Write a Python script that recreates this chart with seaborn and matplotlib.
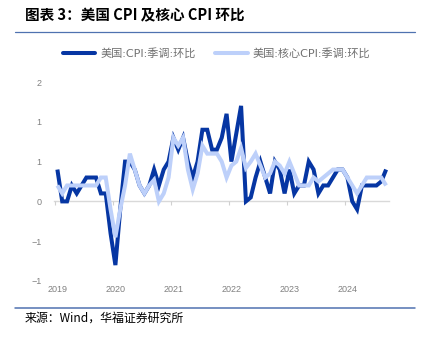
import numpy as np
import pandas as pd
import matplotlib
matplotlib.use("Agg")
import matplotlib.pyplot as plt
from matplotlib.lines import Line2D
import seaborn as sns

# ---- data ----
months = [str(p) for p in pd.period_range("2019-04", "2024-12", freq="M")]
cpi_mom = [0.4, 0.0, 0.0, 0.2, 0.1, 0.2, 0.3, 0.3, 0.3,
           0.1, 0.1, -0.4, -0.8, -0.1, 0.5, 0.5, 0.4, 0.2, 0.1, 0.2, 0.4,
           0.2, 0.4, 0.5, 0.8, 0.65, 0.8, 0.5, 0.3, 0.5, 0.9, 0.9, 0.65,
           0.65, 0.8, 1.1, 0.5, 0.85, 1.2, 0.0, 0.05, 0.3, 0.5, 0.3, 0.1,
           0.5, 0.4, 0.1, 0.4, 0.1, 0.2, 0.2, 0.5, 0.4, 0.1, 0.2, 0.2,
           0.3, 0.4, 0.4, 0.3, 0.0, -0.1, 0.2, 0.2, 0.2, 0.2, 0.25, 0.4]
core_mom = [0.2, 0.1, 0.2, 0.2, 0.2, 0.2, 0.2, 0.2, 0.2,
            0.3, 0.3, -0.1, -0.45, -0.1, 0.2, 0.6, 0.4, 0.2, 0.1, 0.2, 0.27,
            0.0, 0.1, 0.3, 0.8, 0.7, 0.8, 0.4, 0.15, 0.35, 0.7, 0.6, 0.6,
            0.6, 0.5, 0.3, 0.45, 0.5, 0.67, 0.42, 0.5, 0.6, 0.45, 0.3, 0.35,
            0.5, 0.45, 0.35, 0.5, 0.35, 0.2, 0.2, 0.2, 0.3, 0.25, 0.3, 0.35,
            0.4, 0.4, 0.4, 0.3, 0.2, 0.1, 0.2, 0.3, 0.3, 0.3, 0.3, 0.2]
series_names = ["美国:CPI:季调:环比", "美国:核心CPI:季调:环比"]
year_labels = ["2019", "2020", "2021", "2022", "2023", "2024"]
y_ticks = [-1.0, -0.5, 0.0, 0.5, 1.0, 1.5]
y_tick_labels = ["\u22121", "\u22121", "0", "1", "1", "2"]
title = "图表 3：美国 CPI 及核心 CPI 环比"
source = "来源：Wind，华福证券研究所"

dark = "#0636A3"
light = "#BDD0FA"

sns.set_theme(style="white")
plt.rcParams["font.family"] = ["Noto Sans CJK SC", "DejaVu Sans"]

df = pd.DataFrame({"idx": np.arange(len(months)), "month": months,
                   series_names[0]: cpi_mom, series_names[1]: core_mom})
long = df.melt(id_vars=["idx", "month"], var_name="series", value_name="value")

W, H = 423, 342
fig = plt.figure(figsize=(W / 100, H / 100), dpi=100)
ax = fig.add_axes([54 / W, (H - 281) / H, 335 / W, (281 - 82) / H])

sns.lineplot(data=long, x="idx", y="value", hue="series",
             palette=[dark, light], linewidth=2.9, ax=ax, legend=False,
             solid_capstyle="butt", solid_joinstyle="miter")

n = len(months)
ax.set_xlim(-0.7, n - 0.4)
ax.set_ylim(-1.0, 1.5)
for s in ["top", "right", "left"]:
    ax.spines[s].set_visible(False)
ax.spines["bottom"].set_position(("data", 0))
ax.spines["bottom"].set_color("#d9d9d9")
ax.spines["bottom"].set_linewidth(1.0)
ax.spines["bottom"].set_zorder(0)
label_pos = list(range(0, n, 12))
tick_pos = [p - 0.5 for p in label_pos]
ax.set_xticks(tick_pos)
ax.tick_params(axis="x", direction="out", length=3, width=0.8,
               color="#d0d0d0", labelbottom=False, bottom=True)
ax.set_yticks(y_ticks)
ax.set_yticklabels(y_tick_labels, family=["Liberation Sans", "DejaVu Sans"])
ax.tick_params(axis="y", length=0, pad=9, labelsize=6.5, labelcolor="#808080")
ax.set_xlabel("")
ax.set_ylabel("")
ax.grid(False)

sec = ax.secondary_xaxis(location=0.0)
sec.set_xticks(label_pos)
sec.set_xticklabels(year_labels, family=["Liberation Sans", "DejaVu Sans"])
sec.tick_params(length=0, pad=3, labelsize=6.5, labelcolor="#808080")
sec.spines["bottom"].set_visible(False)

# legend
handles = [Line2D([0], [0], color=dark, lw=2.9),
           Line2D([0], [0], color=light, lw=2.9)]
fig.legend(handles, series_names, loc="center", bbox_to_anchor=(0.512, 1 - 53 / H),
           ncol=2, frameon=False, handlelength=2.9, handletextpad=0.45,
           columnspacing=1.8, labelcolor="#707070",
           prop={"family": ["DejaVu Sans", "Noto Sans CJK SC"], "size": 8})

# title and rules
fig.text(25 / W, 1 - 15 / H, title, fontsize=10.5, fontweight="bold",
         va="center", ha="left", color="black")
fig.add_artist(Line2D([15 / W, 415 / W], [1 - 32 / H, 1 - 32 / H],
                      color="#4F72B0", lw=0.9, transform=fig.transFigure))
fig.add_artist(Line2D([15 / W, 415 / W], [1 - 308 / H, 1 - 308 / H],
                      color="#4F72B0", lw=1.1, transform=fig.transFigure))
fig.text(25 / W, 1 - 318 / H, source, fontsize=8.6, va="center", ha="left",
         color="black")

fig.savefig("out.png", dpi=100)
